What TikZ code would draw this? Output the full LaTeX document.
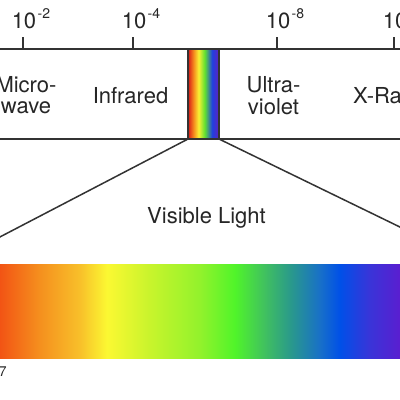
\documentclass[tikz,border=0pt]{standalone}
\usepackage{fontspec}
\setmainfont{TeX Gyre Heros}
\definecolor{linec}{HTML}{333333}
\definecolor{textc}{HTML}{262626}
% bottom spectrum colours
\definecolor{s0}{HTML}{E8301A}
\definecolor{s1}{HTML}{F25414}
\definecolor{s2}{HTML}{F5901E}
\definecolor{s3}{HTML}{F8C02A}
\definecolor{s4}{HTML}{FBF832}
\definecolor{s5}{HTML}{C8F42C}
\definecolor{s6}{HTML}{92F22C}
\definecolor{s7}{HTML}{50F42A}
\definecolor{s8}{HTML}{40C060}
\definecolor{s9}{HTML}{2A9A8A}
\definecolor{s10}{HTML}{1870C8}
\definecolor{s11}{HTML}{0050E8}
\definecolor{s12}{HTML}{3A34D8}
\definecolor{s13}{HTML}{5A1ED0}
\definecolor{s14}{HTML}{6414C0}
% narrow strip colours
\definecolor{r1}{HTML}{D81818}
\definecolor{r2}{HTML}{F58A1E}
\definecolor{r3}{HTML}{FAF032}
\definecolor{r4}{HTML}{60E030}
\definecolor{r5}{HTML}{2040E0}
\definecolor{r6}{HTML}{6020C0}
\pgfdeclarehorizontalshading{visspec}{100bp}{color(0bp)=(s0); color(25bp)=(s0);
  color(29.92bp)=(s1); color(33.71bp)=(s2); color(37.5bp)=(s3); color(40.06bp)=(s4);
  color(44.13bp)=(s5); color(48.86bp)=(s6); color(52.18bp)=(s7); color(55.02bp)=(s8);
  color(57.39bp)=(s9); color(60.23bp)=(s10); color(62.12bp)=(s11); color(64.96bp)=(s12);
  color(67.8bp)=(s13); color(75bp)=(s14); color(100bp)=(s14)}
\pgfdeclarehorizontalshading{stripspec}{100bp}{color(0bp)=(r1); color(25bp)=(r1);
  color(34bp)=(r2); color(42bp)=(r3); color(52bp)=(r4); color(64bp)=(r5);
  color(75bp)=(r6); color(100bp)=(r6)}
\tikzset{
  lab/.style={font=\fontsize{22}{22}\selectfont, text=textc, inner sep=0pt},
  boxline/.style={draw=linec, line width=1.5pt},
}
\newcommand{\supx}[1]{\rlap{\hspace{1.5pt}\raisebox{10pt}{\fontsize{14}{14}\selectfont #1}}}
\begin{document}
\begin{tikzpicture}[x=1pt,y=-1pt]
\useasboundingbox (0,0) rectangle (400,400);
\clip (0,0) rectangle (400,400);
\fill[white] (0,0) rectangle (400,400);
% bottom spectrum bar
\node[shading=visspec, minimum width=528pt, minimum height=94pt, inner sep=0pt,
  outer sep=0pt, anchor=north west] (bar) at (-52,264) {};
% box lines
\coordinate (tl) at (-10,49); \coordinate (tr) at (410,49);
\coordinate (bl) at (-10,139); \coordinate (br) at (410,139);
\draw[boxline] (tl) -- (tr);
\draw[boxline] (bl) -- (br);
% ticks
\foreach \n/\x in {t2/23, t4/133, t8/277, t10/394}{
  \coordinate (\n) at (\x,49);
  \draw[boxline] (\n) -- ++(0,-12);
}
% tick labels
\node[lab, anchor=base] (l2) at (24,28) {10\supx{-2}};
\node[lab, anchor=base] (l4) at (134,28) {10\supx{-4}};
\node[lab, anchor=base] (l8) at (278,28) {10\supx{-8}};
\node[lab, anchor=base] (l10) at (395,28) {10};
% region labels
\node[lab, anchor=base] (mic1) at (26,92) {Micro-};
\node[lab, anchor=base] (mic2) at (26,113) {wave};
\node[lab, anchor=base] (ir) at (130.5,103) {Infrared};
\node[lab, anchor=base] (uv1) at (273.5,92) {Ultra-};
\node[lab, anchor=base] (uv2) at (273.5,114) {violet};
\node[lab, anchor=base west] (xr) at (353,103) {X-Rays};
% visible strip
\node[shading=stripspec, draw=linec, line width=1.5pt, minimum width=31pt,
  minimum height=90pt, inner sep=0pt, outer sep=0pt, anchor=north west] (vis) at (188,49) {};
% fan lines
\draw[boxline] (vis.south west) -- (bar.north west);
\draw[boxline] (vis.south east) -- (bar.north east);
\node[lab, anchor=base] (vl) at (206.5,223) {Visible Light};
% bottom-left wavelength label
\node[lab, anchor=base east] (w7) at (-7,386) {10\supx{-7}};
\end{tikzpicture}
\end{document}
